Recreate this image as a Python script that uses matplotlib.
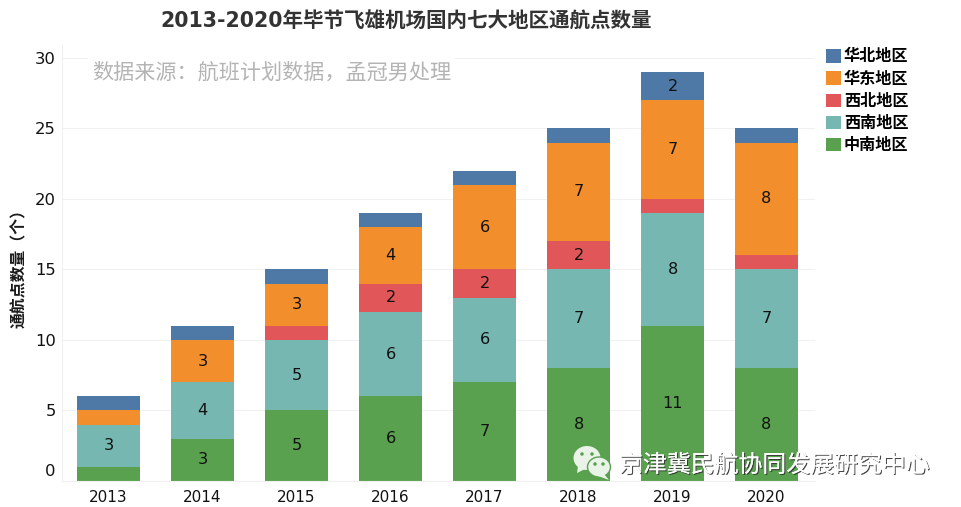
"""Stacked bars: Bijie airport domestic destinations by region, 2013-2020."""
import matplotlib
matplotlib.use("Agg")
import matplotlib.pyplot as plt
import matplotlib.patheffects as pe
from matplotlib.patches import Ellipse, Polygon
from matplotlib.transforms import ScaledTranslation
import numpy as np

plt.rcParams["font.family"] = ["DejaVu Sans", "Noto Sans CJK SC"]

years = ["2013", "2014", "2015", "2016", "2017", "2018", "2019", "2020"]
zhongnan = [1, 3, 5, 6, 7, 8, 11, 8]
xinan = [3, 4, 5, 6, 6, 7, 8, 7]
xibei = [0, 0, 1, 2, 2, 2, 1, 1]
huadong = [1, 3, 3, 4, 6, 7, 7, 8]
huabei = [1, 1, 1, 1, 1, 1, 2, 1]

series = [
    ("中南地区", zhongnan, "#59a14f"),
    ("西南地区", xinan, "#76b7b2"),
    ("西北地区", xibei, "#e15759"),
    ("华东地区", huadong, "#f28e2b"),
    ("华北地区", huabei, "#4e79a7"),
]

W, H = 962, 507
fig = plt.figure(figsize=(W / 100, H / 100), dpi=100)
ax = fig.add_axes([62 / W, 1 - 481 / H, (815 - 62) / W, (481 - 45) / H])

x = np.arange(len(years))
bottom = np.zeros(len(years))
handles = {}
for name, vals, color in series:
    bars = ax.bar(x, vals, 0.67, bottom=bottom, color=color, linewidth=0, zorder=2)
    handles[name] = bars
    labels = [str(v) if v > 1 else "" for v in vals]
    ax.bar_label(bars, labels=labels, label_type="center", fontsize=11.6,
                 color="#111111", zorder=3)
    bottom += np.array(vals)

ax.set_xlim(-0.495, 7.516)
ax.set_ylim(0, 30.92)
ax.set_xticks(x, years)
ax.set_yticks([0, 5, 10, 15, 20, 25, 30])
ax.tick_params(length=0, labelsize=11, labelcolor="#111111")
ax.tick_params(axis="x", pad=6.5)
ax.tick_params(axis="y", pad=4.5, labelsize=11.8)
ax.grid(axis="y", color="#f1f1f1", linewidth=0.8, zorder=0)
ax.set_axisbelow(True)
for side in ["top", "right"]:
    ax.spines[side].set_visible(False)
for side in ["left", "bottom"]:
    ax.spines[side].set_color("#f0f0f0")
    ax.spines[side].set_linewidth(0.8)

# the 0 label sits above its tick in the original
lab0 = ax.get_yticklabels()[0]
lab0.set_transform(lab0.get_transform() + ScaledTranslation(0, 11 / 100, fig.dpi_scale_trans))

ax.set_ylabel("通航点数量（个）", fontsize=11.4, fontweight="bold", color="#1a1a1a", va="center")
ax.yaxis.set_label_coords(19 / W, 1 - 264 / H, transform=fig.transFigure)

fig.text(406 / W, 1 - 22 / H, "2013-2020年毕节飞雄机场国内七大地区通航点数量",
         fontsize=14.8, fontweight="bold", color="#333333", ha="center", va="center")

ax.text(92 / W, 1 - 72 / H, "数据来源：航班计划数据，孟冠男处理", transform=fig.transFigure,
        fontsize=15.2, color="#b4b4b4", ha="left", va="center", zorder=4,
        bbox=dict(facecolor="white", edgecolor="none", pad=3))

order = ["华北地区", "华东地区", "西北地区", "西南地区", "中南地区"]
fig.legend([handles[n] for n in order], order, loc="upper left",
           bbox_to_anchor=(823 / W, 1 - 46 / H), frameon=False, ncol=1,
           prop={"size": 11.6, "weight": "bold"}, handlelength=0.9, handleheight=0.9,
           handletextpad=0.2, labelspacing=0.43, borderpad=0.2, borderaxespad=0)

# WeChat watermark
overlay = fig.add_axes([0, 0, 1, 1], zorder=5)
overlay.set_xlim(0, W)
overlay.set_ylim(H, 0)
overlay.axis("off")
overlay.patch.set_alpha(0)
bubble1 = Ellipse((587, 458), 27, 24, facecolor="#e9f3e7", edgecolor="none")
tail1 = Polygon([[578, 466], [577, 473], [585, 469]], facecolor="#e9f3e7", edgecolor="none")
bubble2 = Ellipse((599, 467), 23, 20, facecolor="#e9f3e7", edgecolor="#59a14f", linewidth=1)
tail2 = Polygon([[604, 474], [609, 480], [598, 476]], facecolor="#e9f3e7", edgecolor="none")
for patch in [bubble1, tail1, bubble2, tail2]:
    overlay.add_patch(patch)
for ex, ey in [(582, 454), (592, 454), (595, 464), (603, 464)]:
    overlay.add_patch(Ellipse((ex, ey), 3.5, 3.5, facecolor="#59a14f", edgecolor="none"))
overlay.text(619, 465, "京津冀民航协同发展研究中心", fontsize=17.2, color="white",
             ha="left", va="center",
             path_effects=[pe.withSimplePatchShadow(offset=(0.8, -0.8), shadow_rgbFace="#333333", alpha=0.9), pe.Normal()])

fig.savefig("out.png", dpi=100)
